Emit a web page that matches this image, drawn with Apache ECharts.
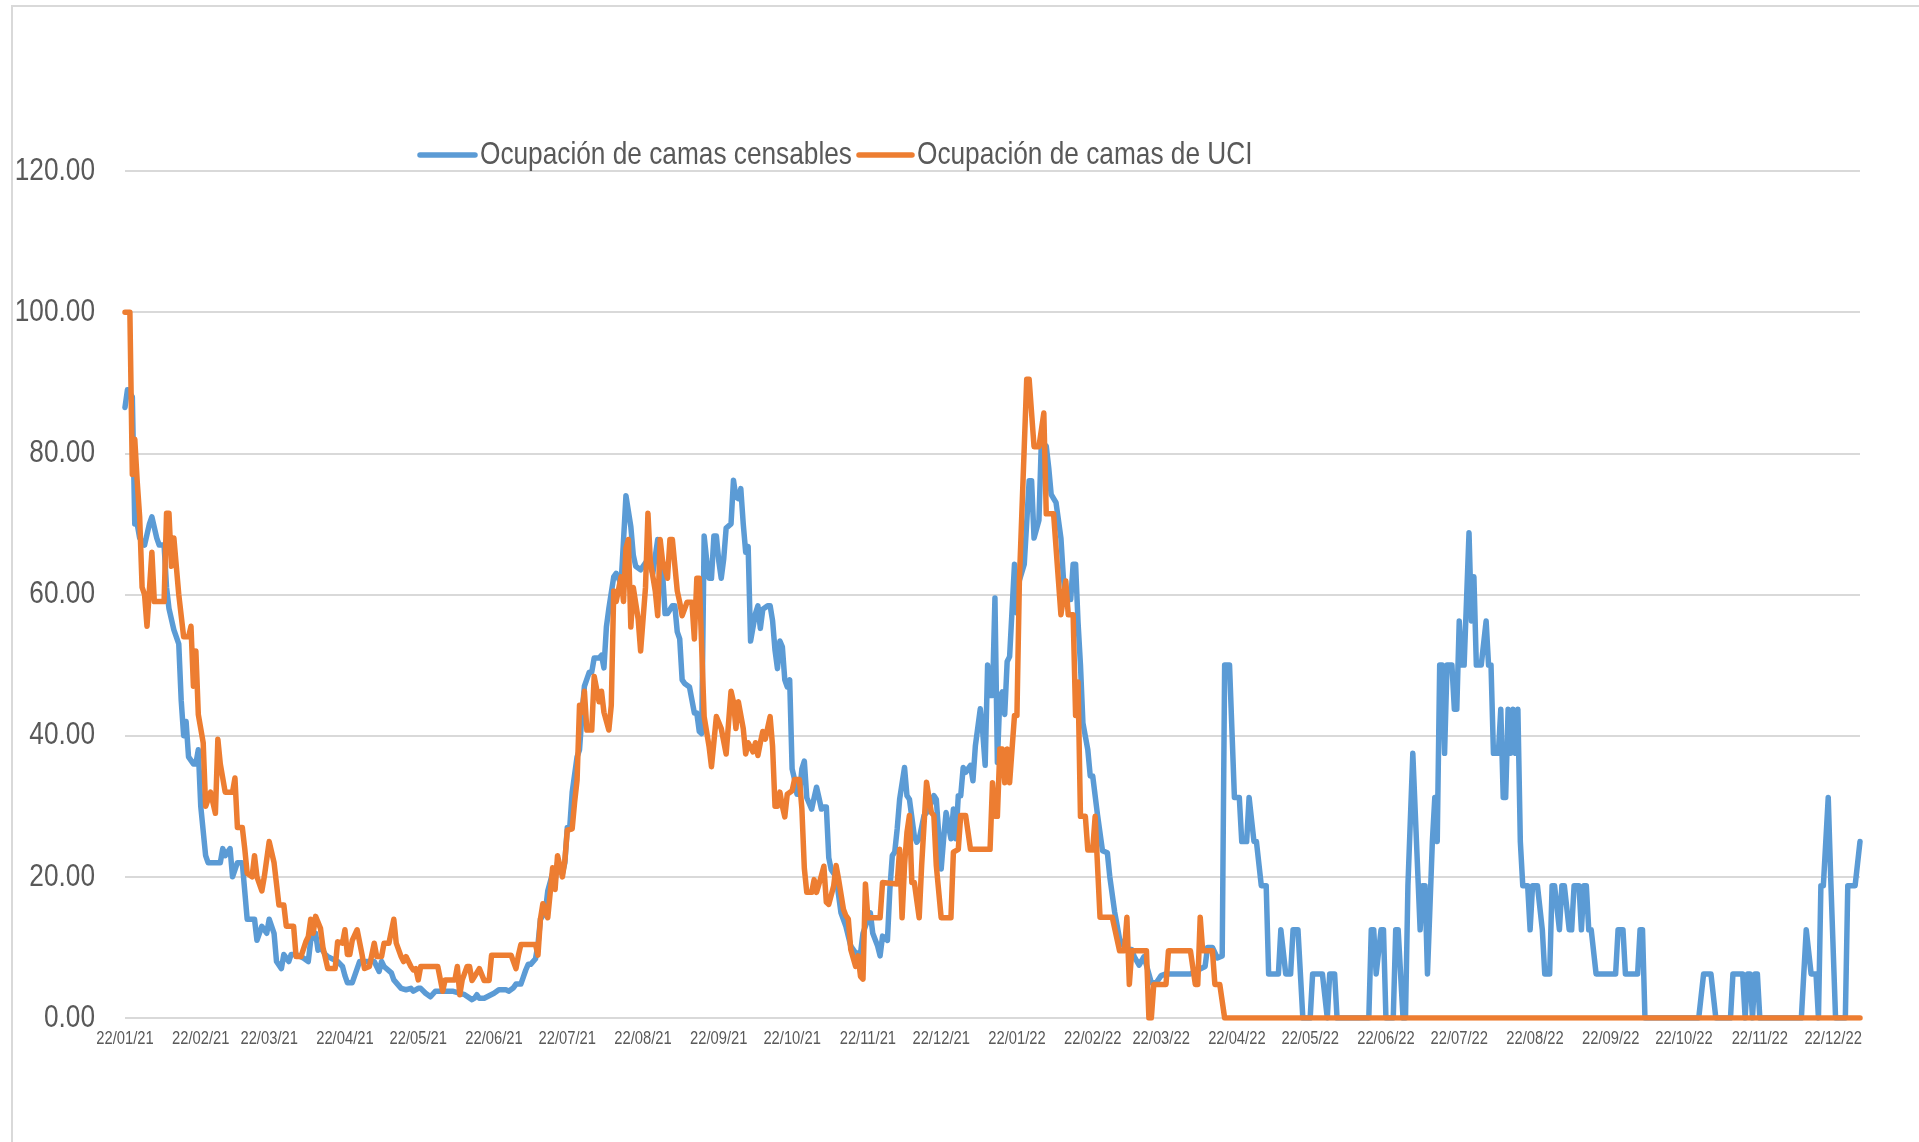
<!DOCTYPE html>
<html>
<head>
<meta charset="utf-8">
<script src="https://cdn.jsdelivr.net/npm/echarts@6/dist/echarts.min.js"></script>
<style>
  html, body { margin: 0; padding: 0; background: #fff; }
  #chart { width: 1919px; height: 1142px; }
</style>
</head>
<body>
<div id="chart"></div>
<script>
// etiquetas del eje X (día 22 de cada mes) y su posición en días desde 22/01/21
const tickLabels = ['22/01/21', '22/02/21', '22/03/21', '22/04/21', '22/05/21', '22/06/21',
  '22/07/21', '22/08/21', '22/09/21', '22/10/21', '22/11/21', '22/12/21',
  '22/01/22', '22/02/22', '22/03/22', '22/04/22', '22/05/22', '22/06/22',
  '22/07/22', '22/08/22', '22/09/22', '22/10/22', '22/11/22', '22/12/22'];
const tickDays = [0, 31, 59, 90, 120, 151, 181, 212, 243, 273, 304, 334,
  365, 396, 424, 455, 485, 516, 546, 577, 608, 638, 669, 699];
const lastDay = 710;
const yTicks = [0, 20, 40, 60, 80, 100, 120];

const seriesNames = ['Ocupación de camas censables', 'Ocupación de camas de UCI'];
const seriesColors = ['#5b9bd5', '#ed7d31'];

// [día, valor]
const censables = [
  [0,86.5],[1,89],[3,88],[4,70],[5,70],[6,68],[8,67],[10,70],[11,71],[13,68],[14,67],[16,67],[17,61],[18,58],
  [20,55],[22,53],[23,45],[24,40],[25,42],[26,37],[28,36],[29,36],[30,38],[31,30],[33,23],[34,22],[39,22],
  [40,24],[41,23],[43,24],[44,20],[46,22],[48,22],[49,18],[50,14],[53,14],[54,11],[56,13],[58,12],[59,14],
  [61,12],[62,8],[64,7],[65,9],[67,8],[68,9],[70,9],[73,8.5],[75,8],[76,11],[78,12],[79,9.6],[80,10],[82,9],
  [83,8.7],[87,8],[89,7.3],[90,6],[91,5],[93,5],[94,6],[96,8],[98,8],[102,8],[104,6.6],[105,8],[106,7.3],
  [109,6.4],[110,5.4],[113,4.2],[115,4],[117,4.2],[118,3.8],[120,4.2],[121,4.2],[123,3.5],[125,3],[127,3.8],
  [134,3.8],[139,3.3],[142,2.6],[143,2.8],[144,3.3],[145,2.8],[147,2.8],[151,3.5],[153,4],[156,4],[157,3.8],
  [159,4.3],[160,4.8],[162,4.8],[163,5.8],[164,6.8],[165,7.6],[166,7.6],[168,8.4],[169,10.4],[170,14],[172,15],
  [173,18],[175,20.5],[176,19.5],[177,22],[179,20.5],[180,22],[181,27],[182,27],[183,32],[185,37],[186,38],
  [187,43],[188,47],[190,49],[191,49],[192,51],[194,51],[195,51.4],[196,49.6],[197,55.4],[198,58],[200,62.5],
  [201,63],[203,61.5],[204,67.6],[205,74],[207,69.6],[208,65.6],[209,64],[211,63.5],[212,64],[214,65],[216,63],
  [218,67.8],[220,63],[221,57.3],[222,57.3],[224,58.4],[225,58.4],[226,54.7],[227,53.7],[228,47.9],[229,47.4],
  [231,46.9],[233,43.2],[234,43.2],[235,40.6],[236,40.3],[237,68.3],[238,65],[239,62.3],[240,62.3],[241,68.3],
  [242,68.3],[243,64.7],[244,62.3],[245,65],[246,69.4],[248,70],[249,76.2],[250,73.8],[251,73.6],[252,75],
  [253,70],[254,66],[255,66.8],[256,53.4],[258,57.3],[259,58.4],[260,55.2],[261,57.9],[263,58.4],[264,58.4],
  [265,56.3],[266,52.1],[267,49.5],[268,53.4],[269,52.6],[270,47.9],[271,46.9],[272,47.9],[273,35.3],[274,33.8],
  [275,31.7],[276,31.7],[277,35.3],[278,36.4],[279,31.2],[281,29.6],[282,31.2],[283,32.7],[284,31.2],[285,29.6],
  [286,29.9],[287,29.9],[288,22.7],[289,21],[291,20],[293,14.9],[295,13],[297,10.2],[299,9.2],[301,9.2],[302,12],
  [304,14],[305,14.9],[306,12],[308,10.2],[309,8.8],[310,11.6],[312,11],[313,18.2],[314,23],[315,23.5],[316,26.8],
  [317,31],[319,35.5],[320,31.5],[321,31],[323,25.8],[324,24.9],[325,25.4],[327,28.7],[328,29.1],[329,29.6],
  [331,31.5],[332,31],[334,21.1],[335,25.4],[336,29.1],[338,25.4],[339,29.6],[340,25.4],[341,31.5],[342,31.5],
  [343,35.5],[344,34.8],[346,35.8],[347,33.6],[348,38.6],[350,43.8],[351,40.5],[352,35.8],[353,50],[354,45.7],
  [355,45.7],[356,59.5],[357,36.2],[358,45.5],[359,46.2],[360,43],[361,50.5],[362,51.2],[364,64.3],[365,57.4],
  [366,62],[368,64.3],[370,76.1],[371,76.1],[372,68],[374,70.5],[375,81.7],[377,81],[378,78],[379,74.2],[381,73],
  [383,68],[384,62.4],[385,59.3],[387,59.3],[388,64.3],[389,64.3],[390,56.1],[391,50],[392,41.8],[394,38],
  [395,34.3],[396,34.3],[398,28.7],[400,23.7],[402,23.4],[403,20],[405,15],[406,13.1],[407,11.2],[409,10],
  [410,9.7],[412,9.7],[413,8.7],[415,7.5],[417,8.7],[420,5],[422,5],[424,6],[426,6.25],[436,6.25],[442,7.3],
  [443,10],[445,10],[447,8.5],[449,8.8],[450,50],[452,50],[454,31.25],[456,31.25],[457,25],[459,25],[460,31.25],
  [462,25],[463,25],[465,18.75],[467,18.75],[468,6.25],[472,6.25],[473,12.5],[475,6.25],[477,6.25],[478,12.5],
  [480,12.5],[482,0],[485,0],[486,6.25],[490,6.25],[492,0],[493,6.25],[495,6.25],[496,0],[509,0],[510,12.5],
  [511,12.5],[512,6.25],[514,12.5],[515,12.5],[516,0],[519,0],[520,12.5],[521,12.5],[523,0],[524,0],[525,18.75],
  [527,37.5],[530,12.5],[531,18.75],[532,18.75],[533,6.25],[535,25],[536,31.25],[537,25],[538,50],[539,50],
  [540,37.5],[541,50],[543,50],[544,43.75],[545,43.75],[546,56.25],[547,50],[548,50],[550,68.75],[551,56.25],
  [552,62.5],[553,50],[555,50],[557,56.25],[558,50],[559,50],[560,37.5],[562,37.5],[563,43.75],[564,31.25],
  [565,31.25],[566,43.75],[567,37.5],[568,43.75],[569,37.5],[570,43.75],[571,25],[572,18.75],[574,18.75],
  [575,12.5],[576,18.75],[578,18.75],[580,12.5],[581,6.25],[583,6.25],[584,18.75],[585,18.75],[587,12.5],
  [588,18.75],[589,18.75],[591,12.5],[592,12.5],[593,18.75],[595,18.75],[596,12.5],[597,18.75],[598,18.75],
  [599,12.5],[600,12.5],[602,6.25],[610,6.25],[611,12.5],[613,12.5],[614,6.25],[619,6.25],[620,12.5],[621,12.5],
  [622,0],[644,0],[646,6.25],[649,6.25],[651,0],[657,0],[658,6.25],[662,6.25],[663,0],[664,6.25],[665,6.25],
  [666,0],[667,6.25],[668,6.25],[669,0],[686,0],[688,12.5],[690,6.25],[692,6.25],[693,0],[694,18.75],[695,18.75],
  [697,31.25],[698,20],[700,0],[704,0],[705,18.75],[708,18.75],[710,25]
];

const uci = [
  [0,100],[2,100],[3,77],[4,82],[5,76],[6,71],[7,61],[8,60],[9,55.5],[11,66],[12,59],[16,59],[17,71.5],[18,71.5],
  [19,64],[20,68],[22,60],[24,54],[26,54],[27,55.5],[28,47],[29,52],[30,43],[32,39],[33,30],[35,32],[37,29],
  [38,39.5],[39,36],[41,32],[44,32],[45,34],[46,27],[48,27],[49,24],[50,20.5],[52,20],[53,23],[54,20],[56,18],
  [57,20],[59,25],[61,22],[63,16],[65,16],[66,13],[69,13],[70,8.7],[72,8.7],[74,10.8],[75,11.5],[76,14],[77,12],
  [78,14.4],[80,12.7],[81,10],[83,7],[86,7],[87,10.8],[89,10.6],[90,12.5],[91,9],[92,9],[93,11],[95,12.5],[97,9],
  [98,7],[100,7.3],[102,10.6],[103,8.7],[105,8.7],[106,10.6],[108,10.6],[110,14],[111,10.6],[113,8.7],[114,8],
  [115,8.7],[117,7.3],[118,6.8],[119,7],[120,5.4],[121,7.3],[128,7.3],[130,3.8],[131,5.4],[135,5.4],[136,7.3],
  [137,3.3],[138,5.4],[140,7.3],[141,7.3],[142,5.3],[145,7],[147,5.3],[149,5.3],[150,8.9],[158,8.9],[160,7],
  [161,8.9],[162,10.4],[168,10.4],[169,8.9],[170,14],[171,16.2],[173,14.2],[175,21.3],[176,18.2],[177,23],
  [179,20],[180,22.3],[181,26.6],[183,26.8],[184,30.6],[185,33.7],[186,44.3],[187,43.3],[188,46.3],[189,40.8],
  [191,40.8],[192,48.4],[194,44.8],[195,46.3],[196,43.3],[198,40.8],[199,44.3],[200,60.5],[201,59],[203,62.5],
  [204,59],[205,66.6],[206,67.8],[207,55.4],[208,61],[210,56.5],[211,52],[213,61],[214,71.5],[215,64.7],
  [217,60.5],[218,57],[219,67.8],[220,64.7],[222,62.3],[223,67.8],[224,67.8],[226,60.5],[227,58.9],[228,57],
  [230,58.9],[232,58.9],[233,53.7],[234,62.3],[235,62.3],[237,42.7],[239,38.5],[240,35.6],[242,42.7],[244,41],
  [246,37.4],[248,46.3],[249,44.8],[250,41],[251,44.8],[253,41],[254,37.4],[255,39],[257,37.7],[258,39],
  [259,37.2],[260,39],[261,40.6],[262,39.5],[264,42.7],[265,38.5],[266,30],[267,30],[268,32],[269,30],[270,28.5],
  [271,31.7],[273,32.2],[274,33.8],[276,33.8],[277,29.6],[278,21.2],[279,17.8],[281,17.8],[282,19.6],[283,17.8],
  [285,20.2],[286,21.5],[287,16.4],[288,16.1],[290,18.7],[291,21.6],[292,19.7],[294,15.4],[295,14.5],[296,14],
  [297,9.7],[299,7.3],[300,8.8],[301,5.9],[302,5.5],[303,19],[304,14.2],[309,14.2],[310,19.2],[316,19],
  [317,23.9],[318,14.2],[319,21.6],[320,26.3],[321,28.7],[322,19.2],[323,19.2],[325,14.2],[326,21.6],[328,33.4],
  [330,29.1],[331,28.7],[332,21.6],[334,14.2],[338,14.2],[339,23.5],[341,23.9],[342,28.7],[344,28.7],[346,23.9],
  [354,23.9],[355,33.33],[356,28.57],[357,28.57],[358,38.1],[359,38.1],[360,33.33],[361,38.1],[362,33.33],
  [364,42.86],[365,42.86],[366,61.9],[367,71.43],[368,80.95],[369,90.48],[370,90.48],[372,80.95],[374,80.95],
  [376,85.71],[377,71.43],[380,71.43],[382,61.9],[383,57.14],[385,61.9],[386,57.14],[388,57.14],[389,42.86],
  [390,47.62],[391,28.57],[393,28.57],[394,23.81],[396,23.81],[397,28.57],[399,14.29],[404,14.29],[407,9.52],
  [409,9.52],[410,14.29],[411,4.76],[412,9.52],[418,9.52],[419,0],[420,0],[421,4.76],[426,4.76],[427,9.52],
  [436,9.52],[438,4.76],[439,4.76],[440,14.29],[441,9.52],[445,9.52],[446,4.76],[448,4.76],[450,0],[710,0]
];

// Excel usa una fuente estrecha: Liberation Sans comprimida horizontalmente
const FONT = "'Liberation Sans', Arial, sans-serif";
const NARROW = 0.82;
const TEXT_COLOR = '#595959';
const LINE_W = 5.5;

const chart = echarts.init(document.getElementById('chart'), null, { renderer: 'canvas' });

chart.setOption({
  animation: false,
  backgroundColor: '#fff',
  grid: { left: 125, right: 59, top: 171, bottom: 124, containLabel: false },
  xAxis: {
    type: 'value',
    min: 0,
    max: lastDay,
    axisLine: { show: false },
    axisTick: { show: false },
    splitLine: { show: false },
    axisLabel: { show: false }
  },
  yAxis: {
    type: 'value',
    min: 0,
    max: 120,
    interval: 20,
    axisLine: { show: false },
    axisTick: { show: false },
    axisLabel: { show: false },
    splitLine: { lineStyle: { color: '#d9d9d9', width: 2 } }
  },
  series: [
    {
      name: seriesNames[0],
      type: 'line',
      symbol: 'none',
      data: censables,
      lineStyle: { color: seriesColors[0], width: LINE_W, cap: 'round', join: 'round' }
    },
    {
      name: seriesNames[1],
      type: 'line',
      symbol: 'none',
      data: uci,
      lineStyle: { color: seriesColors[1], width: LINE_W, cap: 'round', join: 'round' }
    }
  ]
});

// textos (etiquetas de ejes y leyenda) colocados con la escala del gráfico
const graphics = [
  {
    // marco del área del gráfico
    type: 'rect',
    silent: true,
    shape: { x: 12, y: 6, width: 1940, height: 1200 },
    style: { fill: 'none', stroke: '#d9d9d9', lineWidth: 2 }
  }
];

const narrowText = (text, x, y, size, align, vAlign) => ({
  type: 'text',
  silent: true,
  x: x,
  y: y,
  scaleX: NARROW,
  z: 10,
  style: {
    text: text,
    fontFamily: FONT,
    fontSize: size,
    fill: TEXT_COLOR,
    align: align,
    verticalAlign: vAlign
  }
});

yTicks.forEach((v) => {
  const y = chart.convertToPixel({ yAxisIndex: 0 }, v);
  graphics.push(narrowText(v.toFixed(2), 95, y, 32, 'right', 'middle'));
});

const axisY = chart.convertToPixel({ yAxisIndex: 0 }, 0);
tickDays.forEach((d, i) => {
  const x = chart.convertToPixel({ xAxisIndex: 0 }, d);
  graphics.push(narrowText(tickLabels[i], x, axisY + 12, 18, 'center', 'top'));
});

// leyenda
const legendY = 155;
const legendItems = [
  { x0: 420, x1: 475, tx: 480 },
  { x0: 859, x1: 912, tx: 917 }
];
legendItems.forEach((it, i) => {
  graphics.push({
    type: 'line',
    silent: true,
    z: 10,
    shape: { x1: it.x0, y1: legendY, x2: it.x1, y2: legendY },
    style: { stroke: seriesColors[i], lineWidth: LINE_W, lineCap: 'round' }
  });
  graphics.push(narrowText(seriesNames[i], it.tx, legendY, 32, 'left', 'middle'));
});

chart.setOption({ graphic: graphics });
</script>
</body>
</html>
